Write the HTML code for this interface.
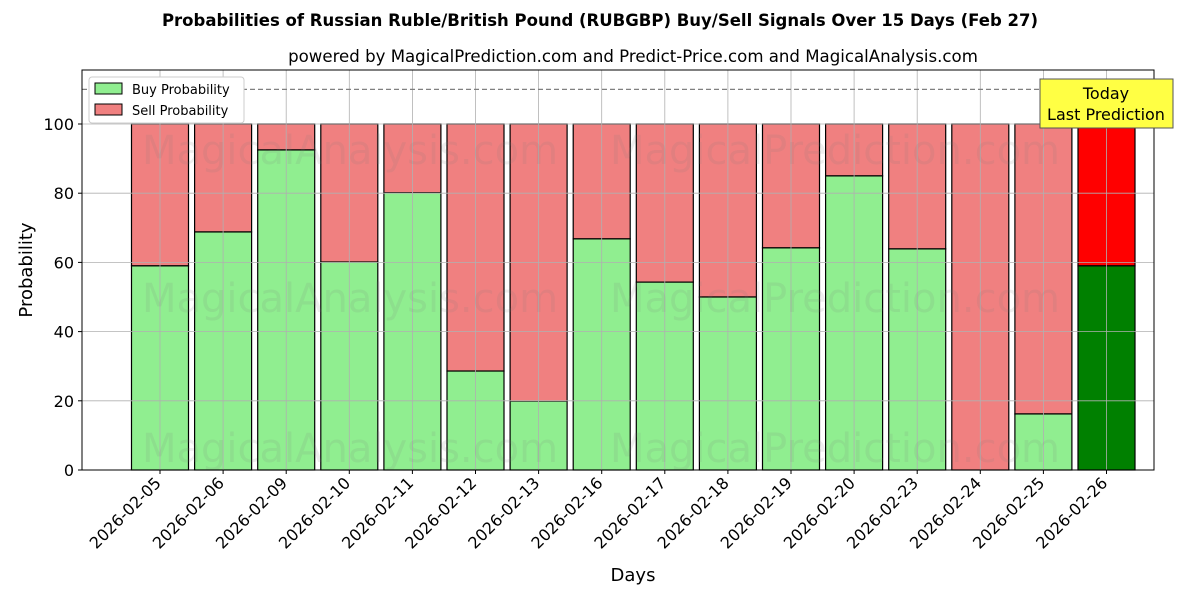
<!DOCTYPE html>
<html><head><meta charset="utf-8"><style>body{margin:0;background:#fff}svg{display:block;font-family:"DejaVu Sans","Liberation Sans",sans-serif}</style></head>
<body>
<svg id="c" width="1200" height="600"></svg>
<script>
const categories=["2026-02-05","2026-02-06","2026-02-09","2026-02-10","2026-02-11","2026-02-12","2026-02-13","2026-02-16","2026-02-17","2026-02-18","2026-02-19","2026-02-20","2026-02-23","2026-02-24","2026-02-25","2026-02-26"];
const buyValues=[59,68.8,92.5,60.1,80.1,28.6,19.9,66.8,54.3,50,64.2,85,63.9,0,16.2,59];
const yTicks=[0,20,40,60,80,100];
const svg=document.getElementById('c');const NS='http://www.w3.org/2000/svg';
const L=82,R=1154,T=70,B=470;
const y=v=>470-v*3.46;const x=i=>160+63.1*i;
function el(t,a,p){const e=document.createElementNS(NS,t);for(const k in a)e.setAttribute(k,a[k]);(p||svg).appendChild(e);return e;}
function tx(s,a){const e=el('text',a);e.textContent=s;return e;}
el('rect',{x:L,y:T,width:R-L,height:B-T,fill:'#fff'});
categories.forEach((c,i)=>{const g=el('g',{});
const last=i===categories.length-1;
el('rect',{x:x(i)-28.5,y:y(100),width:57,height:y(buyValues[i])-y(100),fill:last?'#ff0000':'#f08080',stroke:'#000','stroke-width':1.2},g);
el('rect',{x:x(i)-28.5,y:y(buyValues[i]),width:57,height:y(0)-y(buyValues[i]),fill:last?'#008000':'#90ee90',stroke:'#000','stroke-width':1.2},g);
});
for(let i=0;i<categories.length;i++){el('line',{x1:x(i),x2:x(i),y1:T,y2:B,stroke:'#b0b0b0','stroke-width':0.8});}
yTicks.forEach(v=>{el('line',{x1:L,x2:R,y1:y(v),y2:y(v),stroke:'#b0b0b0','stroke-width':0.8});el('line',{x1:L-4,x2:L,y1:y(v),y2:y(v),stroke:'#000'});const t=tx(v,{x:L-8,y:y(v)+6,'font-size':16,'text-anchor':'end'});});
const wm=[[350,150],[835,150],[350,298],[835,298],[350,448],[835,448]];
["MagicalAnalysis.com","MagicalPrediction.com","MagicalAnalysis.com","MagicalPrediction.com","MagicalAnalysis.com","MagicalPrediction.com"].forEach((s,i)=>{const t=tx(s,{x:wm[i][0],y:wm[i][1]+14,'font-size':40,fill:'rgba(120,120,120,0.13)','text-anchor':'middle'});});
el('line',{x1:L,x2:R,y1:y(110),y2:y(110),stroke:'#808080','stroke-width':1.2,'stroke-dasharray':'5,3'});
categories.forEach((c,i)=>{el('line',{x1:x(i),x2:x(i),y1:B,y2:B+4,stroke:'#000'});const t=tx(c,{x:x(i)+2,y:B+14,'font-size':16,'text-anchor':'end',transform:`rotate(-45 ${x(i)+2} ${B+14})`});});
el('rect',{x:L,y:T,width:R-L,height:B-T,fill:'none',stroke:'#000','stroke-width':1});
let t;
t=tx('Probabilities of Russian Ruble/British Pound (RUBGBP) Buy/Sell Signals Over 15 Days (Feb 27)',{x:600,y:26,'font-size':16.5,'font-weight':'bold','text-anchor':'middle'});
t=tx('powered by MagicalPrediction.com and Predict-Price.com and MagicalAnalysis.com',{x:633,y:62,'font-size':16.6,'text-anchor':'middle'});
t=tx('Days',{x:633,y:581,'font-size':18,'text-anchor':'middle'});
t=tx('Probability',{x:32,y:270,'font-size':18,'text-anchor':'middle',transform:'rotate(-90 32 270)'});
const lg=el('g',{});
el('rect',{x:89,y:77,width:155,height:46,fill:'#fff',stroke:'#ccc',rx:3},lg);
el('rect',{x:95,y:83,width:27,height:11,fill:'#90ee90',stroke:'#000'},lg);
el('rect',{x:95,y:104,width:27,height:11,fill:'#f08080',stroke:'#000'},lg);
t=tx('Buy Probability',{x:132,y:94,'font-size':13});lg.appendChild(t);
t=tx('Sell Probability',{x:132,y:115,'font-size':13});lg.appendChild(t);
const tb=el('g',{});
el('rect',{x:1040,y:79,width:133,height:49,fill:'#ffff44',stroke:'#555'},tb);
t=tx('Today',{x:1106,y:99,'font-size':16,'text-anchor':'middle'});tb.appendChild(t);
t=tx('Last Prediction',{x:1106,y:120,'font-size':16,'text-anchor':'middle'});tb.appendChild(t);
</script>
</body></html>
